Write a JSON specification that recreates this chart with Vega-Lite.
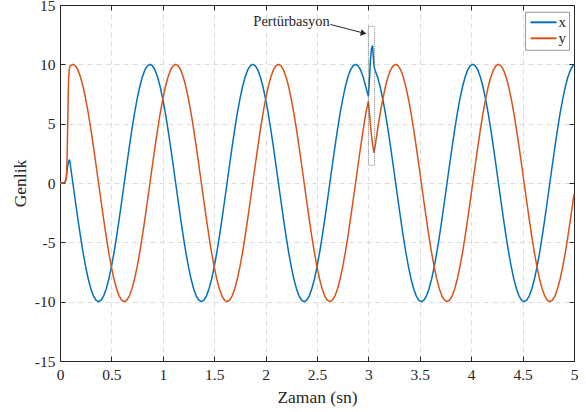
{
"$schema": "https://vega.github.io/schema/vega-lite/v6.json",
"width": 514, "height": 356,
"autosize": {"type": "none"},
"padding": {"left": 60, "top": 5, "right": 12, "bottom": 51},
"background": "white",
"config": {
 "view": {"stroke": "#262626", "strokeWidth": 1},
 "font": "Liberation Serif",
 "axis": {"labelFont": "Liberation Serif", "labelFontSize": 15.5, "labelColor": "#262626", "titleFont": "Liberation Serif", "titleFontSize": 17.5, "titleFontWeight": "normal", "titleColor": "#262626", "tickColor": "#262626", "domainColor": "#262626", "tickSize": -5, "labelFlush": false, "labelOverlap": false, "gridColor": "#dcdcdc", "gridDash": [5, 4], "labelExpr": "datum.value + ''"},
 "legend": {"orient": "none", "legendX": 465, "legendY": 6.8, "symbolType": "M-1,0H4.2", "symbolSize": 100, "symbolStrokeWidth": 2, "labelFont": "Liberation Serif", "labelFontSize": 15, "labelColor": "#262626", "strokeColor": "#999999", "fillColor": "white", "padding": 3, "labelOffset": 15.5, "rowPadding": 0}
},
"datasets": {
 "sig": [
{"t":0,"x":0,"y":0},{"t":0.02,"x":0,"y":0},{"t":0.04,"x":0.03,"y":0.02},{"t":0.05,"x":0.1,"y":0.08},{"t":0.06,"x":0.4,"y":0.3},{"t":0.065,"x":0.75,"y":0.9},{"t":0.07,"x":1.1,"y":2.5},{"t":0.075,"x":1.45,"y":5.0},{"t":0.08,"x":1.7,"y":7.5},{"t":0.085,"x":1.85,"y":9.0},{"t":0.09,"x":1.92,"y":9.6},{"t":0.095,"x":1.85,"y":9.8},
{"t":0.1,"x":1.56,"y":9.88},{"t":0.125,"x":0,"y":10},{"t":0.15,"x":-1.56,"y":9.88},{"t":0.175,"x":-3.09,"y":9.51},{"t":0.2,"x":-4.54,"y":8.91},{"t":0.225,"x":-5.88,"y":8.09},{"t":0.25,"x":-7.07,"y":7.07},{"t":0.275,"x":-8.09,"y":5.88},{"t":0.3,"x":-8.91,"y":4.54},{"t":0.325,"x":-9.51,"y":3.09},{"t":0.35,"x":-9.88,"y":1.56},{"t":0.375,"x":-10,"y":0},{"t":0.4,"x":-9.88,"y":-1.56},{"t":0.425,"x":-9.51,"y":-3.09},{"t":0.45,"x":-8.91,"y":-4.54},{"t":0.475,"x":-8.09,"y":-5.88},{"t":0.5,"x":-7.07,"y":-7.07},{"t":0.525,"x":-5.88,"y":-8.09},{"t":0.55,"x":-4.54,"y":-8.91},{"t":0.575,"x":-3.09,"y":-9.51},{"t":0.6,"x":-1.56,"y":-9.88},{"t":0.625,"x":0,"y":-10},{"t":0.65,"x":1.56,"y":-9.88},{"t":0.675,"x":3.09,"y":-9.51},{"t":0.7,"x":4.54,"y":-8.91},{"t":0.725,"x":5.88,"y":-8.09},{"t":0.75,"x":7.07,"y":-7.07},{"t":0.775,"x":8.09,"y":-5.88},{"t":0.8,"x":8.91,"y":-4.54},{"t":0.825,"x":9.51,"y":-3.09},{"t":0.85,"x":9.88,"y":-1.56},{"t":0.875,"x":10,"y":0},{"t":0.9,"x":9.88,"y":1.56},{"t":0.925,"x":9.51,"y":3.09},{"t":0.95,"x":8.91,"y":4.54},{"t":0.975,"x":8.09,"y":5.88},{"t":1.0,"x":7.07,"y":7.07},{"t":1.025,"x":5.88,"y":8.09},{"t":1.05,"x":4.54,"y":8.91},{"t":1.075,"x":3.09,"y":9.51},
{"t":1.1,"x":1.56,"y":9.88},{"t":1.125,"x":0,"y":10},{"t":1.15,"x":-1.56,"y":9.88},{"t":1.175,"x":-3.09,"y":9.51},{"t":1.2,"x":-4.54,"y":8.91},{"t":1.225,"x":-5.88,"y":8.09},{"t":1.25,"x":-7.07,"y":7.07},{"t":1.275,"x":-8.09,"y":5.88},{"t":1.3,"x":-8.91,"y":4.54},{"t":1.325,"x":-9.51,"y":3.09},{"t":1.35,"x":-9.88,"y":1.56},{"t":1.375,"x":-10,"y":0},{"t":1.4,"x":-9.88,"y":-1.56},{"t":1.425,"x":-9.51,"y":-3.09},{"t":1.45,"x":-8.91,"y":-4.54},{"t":1.475,"x":-8.09,"y":-5.88},{"t":1.5,"x":-7.07,"y":-7.07},{"t":1.525,"x":-5.88,"y":-8.09},{"t":1.55,"x":-4.54,"y":-8.91},{"t":1.575,"x":-3.09,"y":-9.51},{"t":1.6,"x":-1.56,"y":-9.88},{"t":1.625,"x":0,"y":-10},{"t":1.65,"x":1.56,"y":-9.88},{"t":1.675,"x":3.09,"y":-9.51},{"t":1.7,"x":4.54,"y":-8.91},{"t":1.725,"x":5.88,"y":-8.09},{"t":1.75,"x":7.07,"y":-7.07},{"t":1.775,"x":8.09,"y":-5.88},{"t":1.8,"x":8.91,"y":-4.54},{"t":1.825,"x":9.51,"y":-3.09},{"t":1.85,"x":9.88,"y":-1.56},{"t":1.875,"x":10,"y":0},{"t":1.9,"x":9.88,"y":1.56},{"t":1.925,"x":9.51,"y":3.09},{"t":1.95,"x":8.91,"y":4.54},{"t":1.975,"x":8.09,"y":5.88},{"t":2.0,"x":7.07,"y":7.07},{"t":2.025,"x":5.88,"y":8.09},{"t":2.05,"x":4.54,"y":8.91},{"t":2.075,"x":3.09,"y":9.51},
{"t":2.1,"x":1.56,"y":9.88},{"t":2.125,"x":0,"y":10},{"t":2.15,"x":-1.56,"y":9.88},{"t":2.175,"x":-3.09,"y":9.51},{"t":2.2,"x":-4.54,"y":8.91},{"t":2.225,"x":-5.88,"y":8.09},{"t":2.25,"x":-7.07,"y":7.07},{"t":2.275,"x":-8.09,"y":5.88},{"t":2.3,"x":-8.91,"y":4.54},{"t":2.325,"x":-9.51,"y":3.09},{"t":2.35,"x":-9.88,"y":1.56},{"t":2.375,"x":-10,"y":0},{"t":2.4,"x":-9.88,"y":-1.56},{"t":2.425,"x":-9.51,"y":-3.09},{"t":2.45,"x":-8.91,"y":-4.54},{"t":2.475,"x":-8.09,"y":-5.88},{"t":2.5,"x":-7.07,"y":-7.07},{"t":2.525,"x":-5.88,"y":-8.09},{"t":2.55,"x":-4.54,"y":-8.91},{"t":2.575,"x":-3.09,"y":-9.51},{"t":2.6,"x":-1.56,"y":-9.88},{"t":2.625,"x":0,"y":-10},{"t":2.65,"x":1.56,"y":-9.88},{"t":2.675,"x":3.09,"y":-9.51},{"t":2.7,"x":4.54,"y":-8.91},{"t":2.725,"x":5.88,"y":-8.09},{"t":2.75,"x":7.07,"y":-7.07},{"t":2.775,"x":8.09,"y":-5.88},{"t":2.8,"x":8.91,"y":-4.54},{"t":2.825,"x":9.51,"y":-3.09},{"t":2.85,"x":9.88,"y":-1.56},{"t":2.875,"x":10,"y":0},{"t":2.9,"x":9.88,"y":1.56},{"t":2.925,"x":9.51,"y":3.09},{"t":2.95,"x":8.91,"y":4.54},{"t":2.975,"x":8.09,"y":5.88},
{"t":3.0,"x":7.3,"y":6.9},{"t":3.01,"x":8.7,"y":5.9},{"t":3.02,"x":10.4,"y":4.9},{"t":3.03,"x":11.3,"y":4.0},{"t":3.04,"x":11.6,"y":3.3},{"t":3.047,"x":10.8,"y":2.9},{"t":3.055,"x":9.8,"y":2.55},
{"t":3.065,"x":9.51,"y":3.09},{"t":3.09,"x":8.91,"y":4.54},{"t":3.115,"x":8.09,"y":5.88},{"t":3.14,"x":7.07,"y":7.07},{"t":3.165,"x":5.88,"y":8.09},{"t":3.19,"x":4.54,"y":8.91},{"t":3.215,"x":3.09,"y":9.51},{"t":3.24,"x":1.56,"y":9.88},{"t":3.265,"x":0,"y":10},{"t":3.29,"x":-1.56,"y":9.88},{"t":3.315,"x":-3.09,"y":9.51},{"t":3.34,"x":-4.54,"y":8.91},{"t":3.365,"x":-5.88,"y":8.09},{"t":3.39,"x":-7.07,"y":7.07},{"t":3.415,"x":-8.09,"y":5.88},{"t":3.44,"x":-8.91,"y":4.54},{"t":3.465,"x":-9.51,"y":3.09},{"t":3.49,"x":-9.88,"y":1.56},{"t":3.515,"x":-10,"y":0},{"t":3.54,"x":-9.88,"y":-1.56},{"t":3.565,"x":-9.51,"y":-3.09},{"t":3.59,"x":-8.91,"y":-4.54},{"t":3.615,"x":-8.09,"y":-5.88},{"t":3.64,"x":-7.07,"y":-7.07},{"t":3.665,"x":-5.88,"y":-8.09},{"t":3.69,"x":-4.54,"y":-8.91},{"t":3.715,"x":-3.09,"y":-9.51},{"t":3.74,"x":-1.56,"y":-9.88},{"t":3.765,"x":0,"y":-10},{"t":3.79,"x":1.56,"y":-9.88},{"t":3.815,"x":3.09,"y":-9.51},{"t":3.84,"x":4.54,"y":-8.91},{"t":3.865,"x":5.88,"y":-8.09},{"t":3.89,"x":7.07,"y":-7.07},{"t":3.915,"x":8.09,"y":-5.88},{"t":3.94,"x":8.91,"y":-4.54},{"t":3.965,"x":9.51,"y":-3.09},{"t":3.99,"x":9.88,"y":-1.56},{"t":4.015,"x":10,"y":0},{"t":4.04,"x":9.88,"y":1.56},
{"t":4.065,"x":9.51,"y":3.09},{"t":4.09,"x":8.91,"y":4.54},{"t":4.115,"x":8.09,"y":5.88},{"t":4.14,"x":7.07,"y":7.07},{"t":4.165,"x":5.88,"y":8.09},{"t":4.19,"x":4.54,"y":8.91},{"t":4.215,"x":3.09,"y":9.51},{"t":4.24,"x":1.56,"y":9.88},{"t":4.265,"x":0,"y":10},{"t":4.29,"x":-1.56,"y":9.88},{"t":4.315,"x":-3.09,"y":9.51},{"t":4.34,"x":-4.54,"y":8.91},{"t":4.365,"x":-5.88,"y":8.09},{"t":4.39,"x":-7.07,"y":7.07},{"t":4.415,"x":-8.09,"y":5.88},{"t":4.44,"x":-8.91,"y":4.54},{"t":4.465,"x":-9.51,"y":3.09},{"t":4.49,"x":-9.88,"y":1.56},{"t":4.515,"x":-10,"y":0},{"t":4.54,"x":-9.88,"y":-1.56},{"t":4.565,"x":-9.51,"y":-3.09},{"t":4.59,"x":-8.91,"y":-4.54},{"t":4.615,"x":-8.09,"y":-5.88},{"t":4.64,"x":-7.07,"y":-7.07},{"t":4.665,"x":-5.88,"y":-8.09},{"t":4.69,"x":-4.54,"y":-8.91},{"t":4.715,"x":-3.09,"y":-9.51},{"t":4.74,"x":-1.56,"y":-9.88},{"t":4.765,"x":0,"y":-10},{"t":4.79,"x":1.56,"y":-9.88},{"t":4.815,"x":3.09,"y":-9.51},{"t":4.84,"x":4.54,"y":-8.91},{"t":4.865,"x":5.88,"y":-8.09},{"t":4.89,"x":7.07,"y":-7.07},{"t":4.915,"x":8.09,"y":-5.88},{"t":4.94,"x":8.91,"y":-4.54},{"t":4.965,"x":9.51,"y":-3.09},{"t":4.99,"x":9.88,"y":-1.56},{"t":5.0,"x":9.96,"y":-0.94}
 ]
},
"layer": [
 {
  "data": {"name": "sig"},
  "transform": [{"fold": ["x", "y"], "as": ["s", "v"]}],
  "mark": {"type": "line", "strokeWidth": 1.5},
  "encoding": {
   "x": {"field": "t", "type": "quantitative", "scale": {"domain": [0, 5], "nice": false, "zero": false},
         "axis": {"orient": "bottom", "values": [0, 0.5, 1, 1.5, 2, 2.5, 3, 3.5, 4, 4.5, 5], "title": "Zaman (sn)", "titleFontWeight": "normal", "grid": true, "labelPadding": 11, "titlePadding": 6}},
   "y": {"field": "v", "type": "quantitative", "scale": {"domain": [-15, 15], "nice": false, "zero": false},
         "axis": {"orient": "left", "values": [-15, -10, -5, 0, 5, 10, 15], "title": "Genlik", "titleFontWeight": "normal", "grid": true, "labelPadding": 10, "titlePadding": 5}},
   "color": {"field": "s", "type": "nominal", "scale": {"domain": ["x", "y"], "range": ["#0072BD", "#D95319"]}, "legend": {"title": null}}
  }
 },
 {
  "data": {"values": [{"t1": 3.0, "t2": 3.06, "v1": 1.5, "v2": 13.2}]},
  "mark": {"type": "rect", "fill": null, "fillOpacity": 0, "stroke": "#666666", "strokeDash": [1, 1], "strokeWidth": 0.8},
  "encoding": {
   "x": {"field": "t1", "type": "quantitative", "axis": {"orient": "top", "values": [0, 0.5, 1, 1.5, 2, 2.5, 3, 3.5, 4, 4.5, 5], "labels": false, "title": null, "grid": false}},
   "x2": {"field": "t2"},
   "y": {"field": "v1", "type": "quantitative", "axis": {"orient": "right", "values": [-15, -10, -5, 0, 5, 10, 15], "labels": false, "title": null, "grid": false}},
   "y2": {"field": "v2"}
  }
 },
 {
  "data": {"values": [{"t1": 2.63, "v1": 13.36, "t2": 2.955, "v2": 12.63}]},
  "mark": {"type": "rule", "color": "#262626", "strokeWidth": 1},
  "encoding": {
   "x": {"field": "t1", "type": "quantitative", "axis": null},
   "y": {"field": "v1", "type": "quantitative", "axis": null},
   "x2": {"field": "t2"},
   "y2": {"field": "v2"}
  }
 },
 {
  "data": {"values": [{"t": 2.953, "v": 12.63}]},
  "mark": {"type": "point", "shape": "triangle-right", "angle": 14.7, "size": 45, "filled": true, "color": "#262626", "opacity": 1},
  "encoding": {
   "x": {"field": "t", "type": "quantitative", "axis": null},
   "y": {"field": "v", "type": "quantitative", "axis": null}
  }
 },
 {
  "data": {"values": [{"t": 2.625, "v": 13.55, "label": "Pertürbasyon"}]},
  "mark": {"type": "text", "align": "right", "baseline": "middle", "font": "Liberation Serif", "fontSize": 14.5, "color": "#262626"},
  "encoding": {
   "x": {"field": "t", "type": "quantitative", "axis": null},
   "y": {"field": "v", "type": "quantitative", "axis": null},
   "text": {"field": "label"}
  }
 }
],
"resolve": {"axis": {"x": "independent", "y": "independent"}}
}
